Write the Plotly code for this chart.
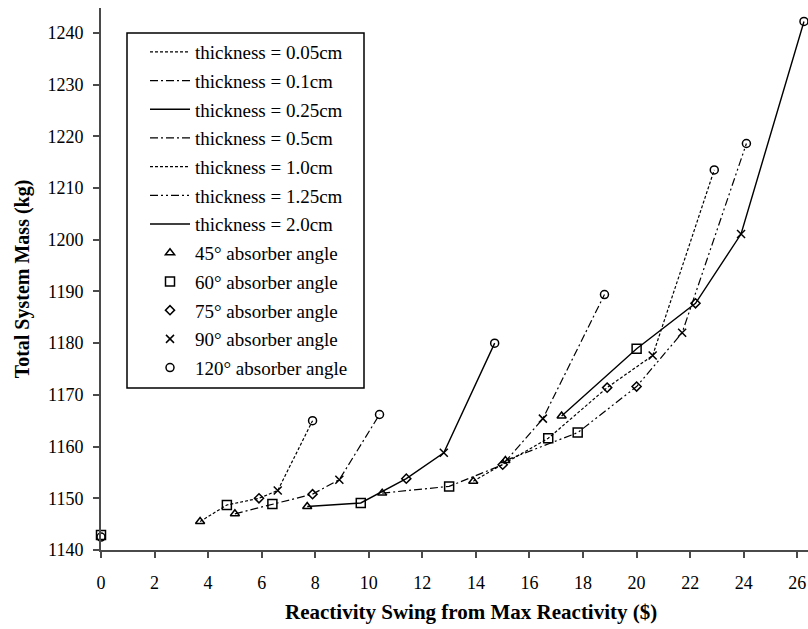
import plotly.graph_objects as go

# ---- data ----
thickness_labels = ["thickness = 0.05cm", "thickness = 0.1cm", "thickness = 0.25cm",
                    "thickness = 0.5cm", "thickness = 1.0cm", "thickness = 1.25cm",
                    "thickness = 2.0cm"]
angle_labels = ["45\u00b0 absorber angle", "60\u00b0 absorber angle", "75\u00b0 absorber angle",
                "90\u00b0 absorber angle", "120\u00b0 absorber angle"]

# reactivity swing ($) per thickness, ordered by angle 45,60,75,90,120
swing_005 = [3.7, 4.7, 5.9, 6.6, 7.9]
swing_01 = [5.0, 6.4, 7.9, 8.9, 10.4]
swing_025 = [7.7, 9.7, 11.4, 12.8, 14.7]
swing_05 = [10.5, 13.0, 15.0, 16.5, 18.8]
swing_10 = [13.9, 16.7, 18.9, 20.6, 22.9]
swing_125 = [15.1, 17.8, 20.0, 21.7, 24.1]
swing_20 = [17.2, 20.0, 22.2, 23.9, 26.25]

mass_005 = [1145.5, 1148.7, 1150.0, 1151.5, 1165.0]
mass_01 = [1147.0, 1148.9, 1150.8, 1153.6, 1166.2]
mass_025 = [1148.4, 1149.1, 1153.8, 1158.8, 1180.0]
mass_05 = [1151.0, 1152.3, 1156.5, 1165.4, 1189.4]
mass_10 = [1153.3, 1161.6, 1171.4, 1177.6, 1213.5]
mass_125 = [1157.3, 1162.7, 1171.6, 1182.0, 1218.6]
mass_20 = [1165.9, 1178.9, 1187.7, 1201.1, 1242.2]

# reference design point (zero swing)
base_swing = [0.0]
base_mass_sq = [1142.9]
base_mass_circ = [1142.5]

swings = [swing_005, swing_01, swing_025, swing_05, swing_10, swing_125, swing_20]
masses = [mass_005, mass_01, mass_025, mass_05, mass_10, mass_125, mass_20]

x_ticks = [0, 2, 4, 6, 8, 10, 12, 14, 16, 18, 20, 22, 24, 26]
y_ticks = [1140, 1150, 1160, 1170, 1180, 1190, 1200, 1210, 1220, 1230, 1240]

# ---- styles ----
dashes = ["3px,2px", "8px,3px,2px,3px", "solid", "8px,3px,2px,3px",
          "3px,2px", "8px,3px,2px,3px,2px,3px", "solid"]
symbols = ["triangle-up-open", "square-open", "diamond-open", "x-thin-open", "circle-open"]
sizes = [8, 9, 7, 8, 8]

FONT = "Liberation Serif"
W, H = 808, 629
ML, MR, MT, MB = 101, 0, 8, 79
PW, PH = W - ML - MR, H - MT - MB


def px_x(p):
    return (p - ML) / PW


def px_y(p):
    return (H - MB - p) / PH


fig = go.Figure()

for i, lab in enumerate(thickness_labels):
    fig.add_trace(go.Scatter(
        x=swings[i], y=masses[i], mode="lines", name=lab,
        legendgroup="t%d" % i,
        line=dict(color="black", width=1.2 if dashes[i] != "solid" else 1.4, dash=dashes[i]),
        cliponaxis=False,
    ))

for j, lab in enumerate(angle_labels):
    xs = [s[j] for s in swings]
    ys = [m[j] for m in masses]
    if j == 1:
        xs = base_swing + xs
        ys = base_mass_sq + ys
    if j == 4:
        xs = base_swing + xs
        ys = base_mass_circ + ys
    fig.add_trace(go.Scatter(
        x=xs, y=ys, mode="markers", name=lab,
        legendgroup="a%d" % j,
        marker=dict(symbol=symbols[j], size=sizes[j], color="black",
                    line=dict(color="black", width=1.5)),
        cliponaxis=False,
    ))

# legend frame
fig.add_shape(type="rect", xref="paper", yref="paper",
              x0=px_x(127), x1=px_x(364), y0=px_y(388), y1=px_y(33),
              line=dict(color="black", width=1.5), fillcolor="white", layer="above")

fig.add_annotation(text="<b>Reactivity Swing from Max Reactivity ($)</b>",
                   xref="paper", yref="paper", x=px_x(471), y=px_y(612),
                   xanchor="center", yanchor="middle", showarrow=False,
                   font=dict(family=FONT, size=21, color="black"))

fig.update_layout(
    width=W, height=H,
    margin=dict(l=ML, r=MR, t=MT, b=MB),
    paper_bgcolor="white", plot_bgcolor="white",
    font=dict(family=FONT, size=18, color="black"),
    showlegend=True,
    legend=dict(
        x=px_x(145), y=px_y(33), xanchor="left", yanchor="top",
        bgcolor="rgba(0,0,0,0)", borderwidth=0,
        font=dict(family=FONT, size=19, color="black"),
        tracegroupgap=1,
        itemwidth=40,
    ),
    xaxis=dict(
        range=[0, 26.4], tickmode="array", tickvals=x_ticks,
        showline=True, linecolor="#4a4a4a", linewidth=2,
        ticks="outside", ticklen=6, tickcolor="#4a4a4a", tickwidth=1.5,
        ticklabelstandoff=9,
        showgrid=False, zeroline=False,
        tickfont=dict(family=FONT, size=18),
    ),
    yaxis=dict(
        range=[1140, 1244.8], tickmode="array", tickvals=y_ticks,
        showline=True, linecolor="#4a4a4a", linewidth=2,
        ticks="outside", ticklen=6, tickcolor="#4a4a4a", tickwidth=1.5,
        ticklabelstandoff=6,
        showgrid=False, zeroline=False,
        tickfont=dict(family=FONT, size=18),
        title=dict(text="<b>Total System Mass (kg)</b>",
                   font=dict(family=FONT, size=20), standoff=12),
    ),
)

fig.write_html("out.html")
